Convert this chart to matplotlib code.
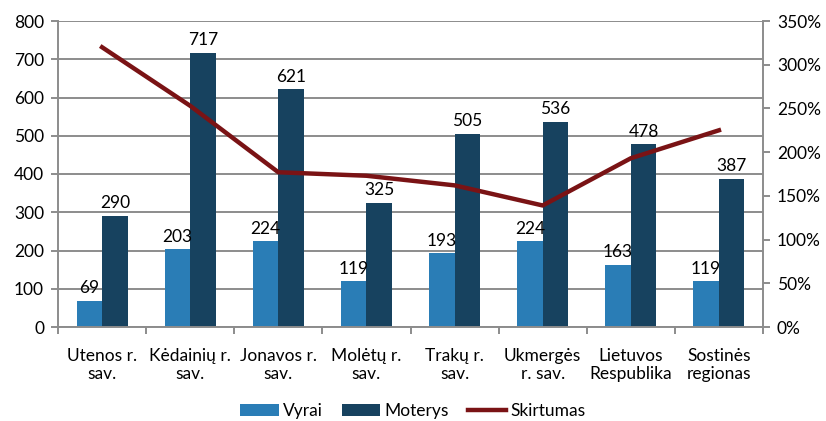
import numpy as np
import matplotlib.pyplot as plt
from matplotlib.ticker import FuncFormatter

plt.rcParams['font.family'] = ['Lato', 'DejaVu Sans']

categories = ['Utenos r.\nsav.', 'Kėdainių r.\nsav.', 'Jonavos r.\nsav.', 'Molėtų r.\nsav.',
              'Trakų r.\nsav.', 'Ukmergės\nr. sav.', 'Lietuvos\nRespublika', 'Sostinės\nregionas']
vyrai = [69, 203, 224, 119, 193, 224, 163, 119]
moterys = [290, 717, 621, 325, 505, 536, 478, 387]
# skirtumas = (moterys - vyrai) / vyrai, %
skirtumas = [320, 253, 177, 173, 162, 139, 193, 225]

c_vyrai = '#2A7DB6'
c_moterys = '#17425F'
c_line = '#7A1315'
c_grid = '#8C8C8C'
fs = 12.5

fig = plt.figure(figsize=(8.26, 4.21), dpi=100)
ax = fig.add_axes([58/826, 1 - 327/421, (763-58)/826, (327-21)/421])
x = np.arange(len(categories))
w = 0.29

ax.bar(x - w/2, vyrai, w, color=c_vyrai, label='Vyrai', zorder=2)
ax.bar(x + w/2, moterys, w, color=c_moterys, label='Moterys', zorder=2)
for i in range(len(x)):
    ax.text(x[i] - w/2, vyrai[i] + 12, str(vyrai[i]), ha='center', va='bottom', fontsize=fs, zorder=4)
    ax.text(x[i] + w/2, moterys[i] + 12, str(moterys[i]), ha='center', va='bottom', fontsize=fs, zorder=4)

ax.set_xlim(-0.5, len(x) - 0.5)
ax.set_ylim(0, 800)
ax.set_yticks(range(0, 801, 100))
ax.yaxis.grid(True, color=c_grid, linewidth=1.4, zorder=0)
ax.set_axisbelow(True)
ax.set_xticks(x)
ax.set_xticklabels(categories, fontsize=fs, linespacing=1.2)
ax.set_xticks(np.arange(-0.5, len(x), 1), minor=True)
ax.tick_params(axis='x', which='major', length=0, pad=15)
ax.tick_params(axis='x', which='minor', length=5, color=c_grid, width=1.4)
ax.tick_params(axis='y', length=5, color=c_grid, width=1.4, labelsize=fs, pad=5)
for s in ['top', 'right']:
    ax.spines[s].set_visible(False)
for s in ['left', 'bottom']:
    ax.spines[s].set_color(c_grid)
    ax.spines[s].set_linewidth(1.4)

ax2 = ax.twinx()
ax2.plot(x, skirtumas, color=c_line, linewidth=3.2, label='Skirtumas', zorder=5)
ax2.set_ylim(0, 350)
ax2.set_yticks(range(0, 351, 50))
ax2.yaxis.set_major_formatter(FuncFormatter(lambda v, p: '%d%%' % v))
ax2.tick_params(axis='y', length=5, color=c_grid, width=1.4, labelsize=fs, pad=5)
for s in ['top', 'left', 'bottom']:
    ax2.spines[s].set_visible(False)
ax2.spines['right'].set_color(c_grid)
ax2.spines['right'].set_linewidth(1.4)

h1, l1 = ax.get_legend_handles_labels()
h2, l2 = ax2.get_legend_handles_labels()
fig.legend(h1 + h2, l1 + l2, loc='center', bbox_to_anchor=(0.5, 1 - 411/421), ncol=3,
           frameon=False, fontsize=fs, handlelength=2.2, handleheight=0.7,
           handletextpad=0.25, columnspacing=1.1)

fig.savefig('out.png', dpi=100)
